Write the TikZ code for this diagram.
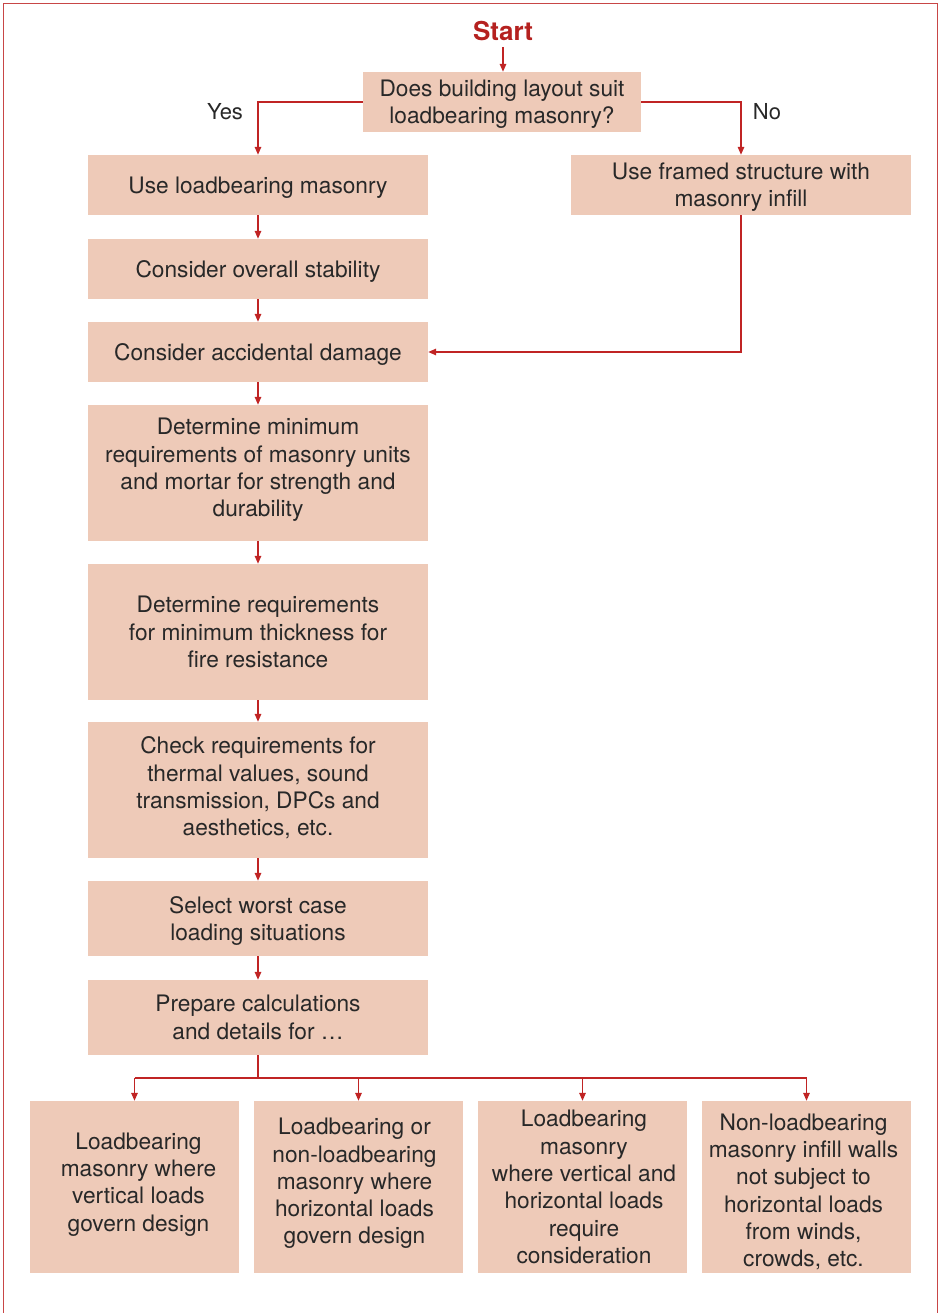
\documentclass[tikz,border=0pt]{standalone}
\usepackage{fontspec}
\setmainfont{TeX Gyre Heros}
\usetikzlibrary{arrows.meta}
\definecolor{boxfill}{RGB}{238,202,184}
\definecolor{linered}{RGB}{192,36,36}
\definecolor{framered}{RGB}{200,70,70}
\definecolor{txt}{RGB}{40,40,40}
\definecolor{startred}{RGB}{181,33,31}
\begin{document}
\begin{tikzpicture}[x=1pt,y=-1pt,
  stepbox/.style={fill=boxfill,draw=none,inner sep=0pt,align=center,text=txt,
     font=\fontsize{22.7}{27.3}\selectfont},
  mainbox/.style={stepbox,minimum width=340pt},
  botbox/.style={stepbox,minimum width=209pt,minimum height=172pt},
  boxtext/.style={text=txt,inner sep=0pt,align=center,font=\fontsize{22.7}{27.3}\selectfont},
  conn/.style={draw=linered,line width=1.4pt},
  arr/.style={conn,-{Triangle[length=8pt,width=6.5pt]}},
  lab/.style={text=txt,font=\fontsize{22}{26}\selectfont,inner sep=0pt}
]
\useasboundingbox (0,0) rectangle (940,1313);
% frame
\draw[framered,line width=1.3pt] (3.5,1313) -- (3.5,3.5) -- (937.5,3.5) -- (937.5,1313);

\node[text=startred,font=\fontsize{26}{30}\selectfont\bfseries,inner sep=0pt] (start) at (503,31) {Start};
\node[stepbox,minimum width=278pt,minimum height=60pt] (q) at (502,102) {};
\node[mainbox,minimum height=60pt] (b1) at (258,185) {};
\node[mainbox,minimum height=60pt] (bR) at (741,185) {};
\node[mainbox,minimum height=60pt] (b2) at (258,269) {};
\node[mainbox,minimum height=60pt] (b3) at (258,352) {};
\node[mainbox,minimum height=136pt] (b4) at (258,473) {};
\node[mainbox,minimum height=136pt] (b5) at (258,632) {};
\node[mainbox,minimum height=136pt] (b6) at (258,790) {};
\node[mainbox,minimum height=75pt] (b7) at (258,918.5) {};
\node[mainbox,minimum height=75pt] (b8) at (258,1017.5) {};
\node[botbox] (ba) at (134.5,1187) {};
\node[botbox] (bb) at (358.5,1187) {};
\node[botbox] (bc) at (582.5,1187) {};
\node[botbox] (bd) at (806.5,1187) {};

\node[boxtext] (tq) at ([yshift=-2.5pt]q.center) {Does building layout suit\\loadbearing masonry?};
\node[boxtext] (t1) at ([yshift=-3pt]b1.center) {Use loadbearing masonry};
\node[boxtext] (tR) at ([yshift=-2.5pt]bR.center) {Use framed structure with\\masonry infill};
\node[boxtext] (t2) at ([yshift=-2pt]b2.center) {Consider overall stability};
\node[boxtext] (t3) at ([yshift=-2pt]b3.center) {Consider accidental damage};
\node[boxtext] (t4) at ([yshift=3pt]b4.center) {Determine minimum\\requirements of masonry units\\and mortar for strength and\\durability};
\node[boxtext] (t5) at (b5.center) {Determine requirements\\for minimum thickness for\\fire resistance};
\node[boxtext] (t6) at ([yshift=2pt]b6.center) {Check requirements for\\thermal values, sound\\transmission, DPCs and\\aesthetics, etc.};
\node[boxtext] (t7) at ([yshift=-2.5pt]b7.center) {Select worst case\\loading situations};
\node[boxtext] (t8) at (b8.center) {Prepare calculations\\and details for \dots};
\node[boxtext] (ta) at ([xshift=4pt,yshift=2.5pt]ba.center) {Loadbearing\\masonry where\\vertical loads\\govern design};
\node[boxtext] (tb) at ([xshift=-4pt,yshift=3.5pt]bb.center) {Loadbearing or\\non-loadbearing\\masonry where\\horizontal loads\\govern design};
\node[boxtext] (tc) at ([xshift=1.5pt]bc.center) {Loadbearing\\masonry\\where vertical and\\horizontal loads\\require\\consideration};
\node[boxtext] (td) at ([xshift=-3pt,yshift=-5pt]bd.center) {Non-loadbearing\\masonry infill walls\\not subject to\\horizontal loads\\from winds,\\crowds, etc.};

\node[lab] (yes) at (225,112) {Yes};
\node[lab] (no) at (767,112) {No};

\coordinate (startend) at (503,47);
\draw[arr] (startend) -- (startend |- q.north);
\draw[arr] (q.west) -| (b1.north);
\draw[arr] (q.east) -| (bR.north);
\draw[arr] (b1) -- (b2);
\draw[arr] (b2) -- (b3);
\draw[arr] (b3) -- (b4);
\draw[arr] (b4) -- (b5);
\draw[arr] (b5) -- (b6);
\draw[arr] (b6) -- (b7);
\draw[arr] (b7) -- (b8);
\draw[arr] (bR.south) |- (b3.east);
\coordinate (bus) at (258,1078);
\draw[conn] (b8.south) -- (bus);
\draw[conn] (ba.north |- bus) -- (bd.north |- bus);
\foreach \n in {ba,bb,bc,bd} \draw[arr] (\n.north |- bus) -- (\n.north);
\end{tikzpicture}
\end{document}
